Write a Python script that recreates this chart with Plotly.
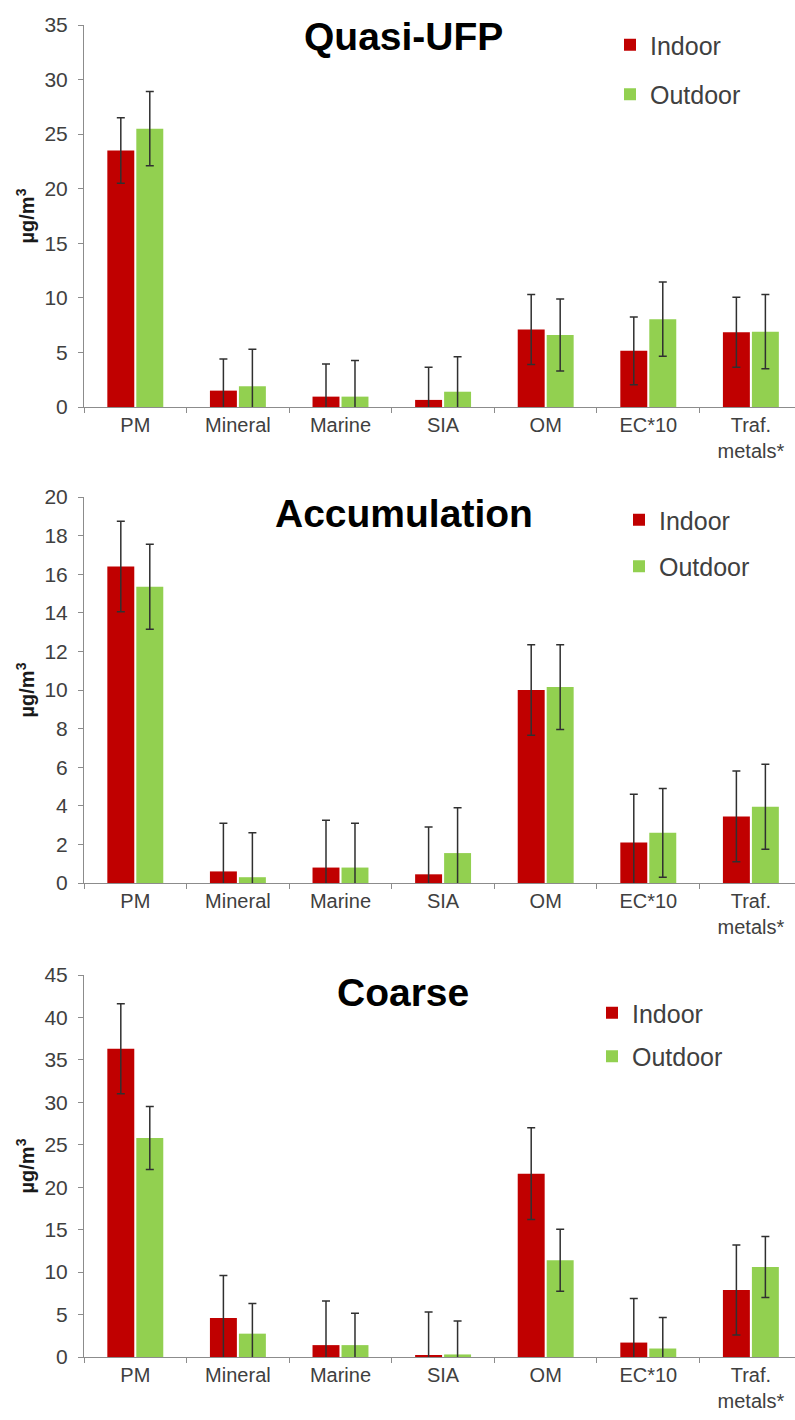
import plotly.graph_objects as go
from plotly.subplots import make_subplots

categories = ["PM", "Mineral", "Marine", "SIA", "OM", "EC*10", "Traf.<br>metals*"]
panel_titles = ["Quasi-UFP", "Accumulation", "Coarse"]
series_names = ["Indoor", "Outdoor"]

ufp_indoor = [23.5, 1.5, 0.95, 0.65, 7.1, 5.15, 6.85]
ufp_indoor_err = [3.0, 2.9, 3.0, 3.0, 3.2, 3.1, 3.2]
ufp_outdoor = [25.5, 1.9, 0.95, 1.4, 6.6, 8.05, 6.9]
ufp_outdoor_err = [3.4, 3.4, 3.3, 3.2, 3.3, 3.4, 3.4]

acc_indoor = [16.4, 0.6, 0.8, 0.45, 10.0, 2.1, 3.45]
acc_indoor_err = [2.35, 2.5, 2.45, 2.45, 2.35, 2.5, 2.35]
acc_outdoor = [15.35, 0.3, 0.8, 1.55, 10.15, 2.6, 3.95]
acc_outdoor_err = [2.2, 2.3, 2.3, 2.35, 2.2, 2.3, 2.2]

coa_indoor = [36.3, 4.6, 1.4, 0.15, 21.6, 1.7, 7.9]
coa_indoor_err = [5.3, 5.0, 5.2, 5.15, 5.4, 5.2, 5.3]
coa_outdoor = [25.8, 2.75, 1.4, 0.3, 11.4, 1.0, 10.6]
coa_outdoor_err = [3.7, 3.55, 3.75, 3.95, 3.65, 3.65, 3.6]

y_max = [35, 20, 45]
y_dtick = [5, 2, 5]

panels = [
    (ufp_indoor, ufp_indoor_err, ufp_outdoor, ufp_outdoor_err),
    (acc_indoor, acc_indoor_err, acc_outdoor, acc_outdoor_err),
    (coa_indoor, coa_indoor_err, coa_outdoor, coa_outdoor_err),
]

W, H = 795, 1420
L, R = 84, 0
PW = W - L - R

def py(px):
    return 1 - px / H

def pxp(px):
    return (px - L) / PW

# plot area pixel extents (top, bottom)
areas = [(25, 407), (497, 883), (975, 1357)]
title_pos = [(403, 37), (404, 513), (403, 993)]
legend_pos = [(610, 22), (619, 497), (592, 990)]
legend_gaps = [14, 11, 8]

RED = "#C00000"
GREEN = "#92D050"
AXIS = "#8C8C8C"
TXT = "#404040"

fig = make_subplots(rows=3, cols=1)
legend_names = ["legend", "legend2", "legend3"]

for i, (ind, inde, outd, oute) in enumerate(panels):
    r = i + 1
    for name, vals, errs, col in [(series_names[0], ind, inde, RED),
                                   (series_names[1], outd, oute, GREEN)]:
        fig.add_trace(go.Bar(
            x=categories, y=vals, name=name, marker=dict(color=col, line=dict(width=0)),
            error_y=dict(type="data", array=errs, visible=True, color="#303030",
                         thickness=1.5, width=4),
            legend=legend_names[i], legendgroup=f"{name}{i}",
        ), row=r, col=1)

layout = dict(
    width=W, height=H,
    margin=dict(l=L, r=R, t=0, b=0),
    paper_bgcolor="white", plot_bgcolor="white",
    barmode="group", bargap=0.435, bargroupgap=0.07,
    font=dict(family="Liberation Sans, Arial, sans-serif", color=TXT),
    showlegend=True,
)
fig.update_layout(**layout)

for i in range(3):
    top, bot = areas[i]
    sfx = "" if i == 0 else str(i + 1)
    fig.layout["yaxis" + sfx].update(
        domain=[py(bot), py(top)], range=[0, y_max[i]], dtick=y_dtick[i], tick0=0,
        showline=True, linecolor=AXIS, linewidth=1, ticks="outside", ticklen=5,
        tickcolor=AXIS, showgrid=False, zeroline=False, automargin=False,
        tickfont=dict(size=21, color=TXT), ticklabelstandoff=6,
        title=dict(text="<b>µg/m<sup>3</sup></b>", font=dict(size=20, color="#1a1a1a"), standoff=4),
    )
    fig.layout["xaxis" + sfx].update(
        domain=[0, 1], range=[-0.5, 6.43], type="category",
        showline=True, linecolor=AXIS, linewidth=1, ticks="outside", ticklen=5,
        tickcolor=AXIS, tickson="boundaries", showgrid=False, zeroline=False,
        automargin=False, tickfont=dict(size=20, color=TXT), tickangle=0,
        anchor="y" + sfx,
    )
    tx, ty = title_pos[i]
    fig.add_annotation(text=f"<b>{panel_titles[i]}</b>", x=pxp(tx), y=py(ty),
                       xref="paper", yref="paper", xanchor="center", yanchor="middle",
                       showarrow=False, font=dict(size=39, color="black"))
    lx, ly = legend_pos[i]
    fig.layout[legend_names[i]] = dict(
        x=pxp(lx), y=py(ly), xanchor="left", yanchor="top",
        font=dict(size=25, color=TXT), bgcolor="rgba(0,0,0,0)",
        tracegroupgap=legend_gaps[i], traceorder="grouped", itemclick=False,
    )

fig.write_html("out.html", config={"displayModeBar": False},
               post_script="document.body.style.margin='0px';")
